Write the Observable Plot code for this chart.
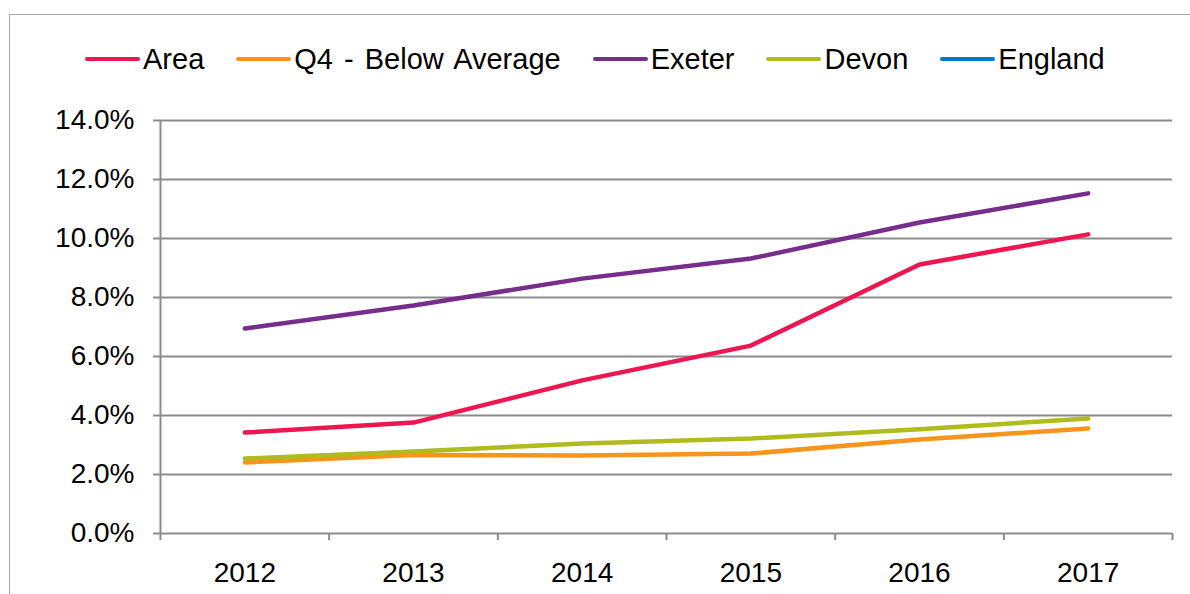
<!DOCTYPE html>
<html>
<head>
<meta charset="utf-8">
<script src="https://cdn.jsdelivr.net/npm/d3@7"></script>
<script src="https://cdn.jsdelivr.net/npm/@observablehq/plot@0.6"></script>
<style>
  html, body { margin: 0; padding: 0; background: #fff; }
  body { width: 1190px; height: 594px; overflow: hidden; position: relative; font-family: "Liberation Sans", Arial, sans-serif; }
  #frame { position: absolute; left: 9px; top: 14px; width: 1300px; height: 700px; border: 1px solid #a6a6a6; box-sizing: border-box; }
  #legend { position: relative; height: 95px; display: flex; align-items: center; padding-left: 85px; padding-top: 23px; box-sizing: border-box; }
  .item { display: flex; align-items: center; margin-right: 32px; font-size: 29px; word-spacing: 3px; color: #000; }
  .sw { width: 55px; height: 4.5px; border-radius: 3px; margin-right: 3px; }
  #chart { position: relative; }
</style>
</head>
<body>
<div id="frame"></div>
<div id="legend"></div>
<div id="chart"></div>
<script>
const years = [2012, 2013, 2014, 2015, 2016, 2017];
const seriesNames = ["Area", "Q4 - Below Average", "Exeter", "Devon", "England"];
const seriesColors = ["#ED1651", "#F7941D", "#772D8C", "#B0BB1E", "#0077C8"];
const area = [0.0342, 0.0376, 0.0519, 0.0637, 0.0912, 0.1014];
const q4 = [0.0241, 0.0266, 0.0264, 0.0271, 0.0319, 0.0356];
const exeter = [0.0695, 0.0773, 0.0864, 0.0932, 0.1054, 0.1153];
const devon = [0.0254, 0.0278, 0.0305, 0.0322, 0.0353, 0.0390];
const england = []; // no values drawn in the reference
const yTicks = [0, 0.02, 0.04, 0.06, 0.08, 0.10, 0.12, 0.14];

const valuesBySeries = [area, q4, exeter, devon, england];
const data = [];
seriesNames.forEach((name, i) => {
  valuesBySeries[i].forEach((v, j) => data.push({series: name, year: years[j], value: v}));
});

// Legend
const legend = document.getElementById("legend");
seriesNames.forEach((name, i) => {
  const it = document.createElement("div");
  it.className = "item";
  const sw = document.createElement("div");
  sw.className = "sw";
  sw.style.background = seriesColors[i];
  const tx = document.createElement("span");
  tx.textContent = name;
  it.appendChild(sw); it.appendChild(tx);
  legend.appendChild(it);
});

const boundaries = years.map(y => y - 0.5).concat([years[years.length - 1] + 0.5]);
const gridColor = "#8c8c8c";

const chart = Plot.plot({
  width: 1190,
  height: 499,
  marginTop: 25,
  marginBottom: 61,
  marginLeft: 160,
  marginRight: 18,
  style: {fontFamily: "'Liberation Sans', Arial, sans-serif", color: "#000", background: "transparent", overflow: "visible"},
  x: {type: "linear", domain: [boundaries[0], boundaries[boundaries.length - 1]]},
  y: {domain: [0, 0.14]},
  color: {domain: seriesNames, range: seriesColors},
  marks: [
    Plot.ruleY(yTicks, {stroke: gridColor, strokeWidth: 2}),
    Plot.ruleX([boundaries[0]], {stroke: gridColor, strokeWidth: 2}),
    Plot.axisY({ticks: yTicks, tickFormat: d3.format(".1%"), tickSize: 7, tickPadding: 19, fontSize: 28, stroke: gridColor, strokeWidth: 2, label: null}),
    Plot.axisX({ticks: boundaries, tickFormat: () => "", tickSize: 7, stroke: gridColor, strokeWidth: 2, label: null}),
    Plot.axisX({ticks: years, tickFormat: d => String(d), tickSize: 0, tickPadding: 29, fontSize: 28, label: null}),
    Plot.line(data, {x: "year", y: "value", z: "series", stroke: "series", strokeWidth: 4.5, strokeLinecap: "round", strokeLinejoin: "round"})
  ]
});
document.getElementById("chart").appendChild(chart);
</script>
</body>
</html>
